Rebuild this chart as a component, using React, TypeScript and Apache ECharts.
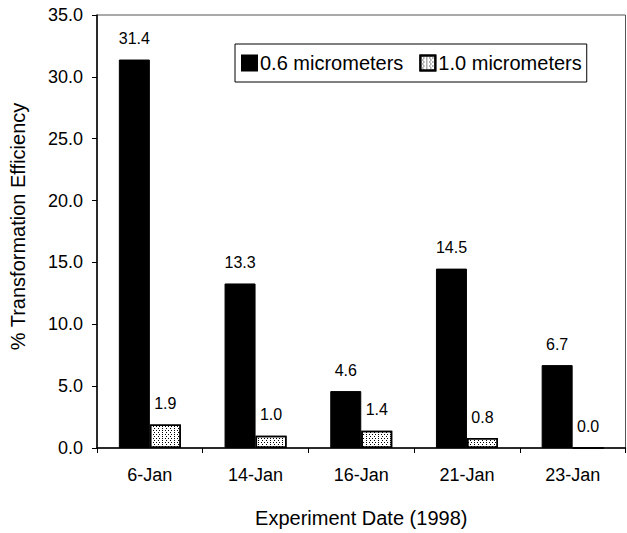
import React, { useEffect, useRef } from "react";
import * as echarts from "echarts";

const categories = ["6-Jan", "14-Jan", "16-Jan", "21-Jan", "23-Jan"];
const series06 = [31.4, 13.3, 4.6, 14.5, 6.7];
const series10 = [1.9, 1.0, 1.4, 0.8, 0.0];
const seriesNames = ["0.6 micrometers", "1.0 micrometers"];

const FONT = "Liberation Sans, Arial, Helvetica, sans-serif";

export default function App() {
  const ref = useRef<HTMLDivElement>(null);
  useEffect(() => {
    if (!ref.current) return;
    const chart = echarts.init(ref.current, undefined, { renderer: "svg" });
    const label = {
      show: true,
      position: "top",
      distance: 13,
      color: "#000",
      fontSize: 16,
      fontFamily: FONT,
      formatter: (p: any) => Number(p.value).toFixed(1),
    };
    chart.setOption({
      animation: false,
      backgroundColor: "#fff",
      textStyle: { fontFamily: FONT, color: "#000" },
      grid: {
        left: 91,
        top: 15,
        right: 1.5,
        bottom: 83,
        containLabel: false,
        show: true,
        borderColor: "#555",
        borderWidth: 1,
        backgroundColor: "transparent",
      },
      legend: {
        left: 235,
        top: 44,
        orient: "horizontal",
        borderColor: "#000",
        borderWidth: 1,
        padding: [9, 5, 9, 6],
        itemGap: 16,
        itemWidth: 15,
        itemHeight: 15,
        icon: "rect",
        textStyle: { fontSize: 20, color: "#000", fontFamily: FONT, padding: [0, 0, 0, -2] },
        data: seriesNames,
      },
      xAxis: {
        type: "category",
        data: categories,
        position: "bottom",
        axisLine: { lineStyle: { color: "#000", width: 1.5 } },
        axisTick: { show: true, length: 5, lineStyle: { color: "#000" } },
        axisLabel: { fontSize: 18, color: "#000", fontFamily: FONT, margin: 18 },
        name: "Experiment Date (1998)",
        nameLocation: "middle",
        nameGap: 60,
        nameTextStyle: { fontSize: 20, color: "#000", fontFamily: FONT },
      },
      yAxis: {
        type: "value",
        min: 0,
        max: 35,
        interval: 5,
        position: "left",
        axisLine: { show: true, lineStyle: { color: "#000", width: 1.5 } },
        axisTick: { show: true, length: 5, lineStyle: { color: "#000" } },
        splitLine: { show: false },
        axisLabel: {
          fontSize: 18,
          color: "#000",
          fontFamily: FONT,
          margin: 14,
          formatter: (v: number) => v.toFixed(1),
        },
        name: "% Transformation Efficiency",
        nameLocation: "middle",
        nameGap: 69,
        nameRotate: 90,
        nameTextStyle: { fontSize: 20, color: "#000", fontFamily: FONT, padding: [0, 0, 0, 10] },
      },
      series: [
        {
          name: seriesNames[0],
          type: "bar",
          data: series06,
          barWidth: 31,
          barGap: "0%",
          itemStyle: { color: "#000", borderColor: "#000", borderWidth: 1 },
          label,
        },
        {
          name: seriesNames[1],
          type: "bar",
          data: series10,
          barWidth: 31,
          barGap: "0%",
          itemStyle: {
            color: "#fff",
            borderColor: "#000",
            borderWidth: 1.5,
            decal: {
              symbol: "rect",
              symbolSize: 1,
              color: "#000",
              backgroundColor: "#fff",
              dashArrayX: [
                [1, 2],
                [0, 1.5, 1, 0.5],
              ],
              dashArrayY: [1, 1],
              rotation: 0,
            },
          },
          label,
        },
      ],
    });
    return () => chart.dispose();
  }, []);
  return (
    <div
      ref={ref}
      style={{ position: "fixed", left: 0, top: 0, width: 627, height: 533, background: "#fff" }}
    />
  );
}
